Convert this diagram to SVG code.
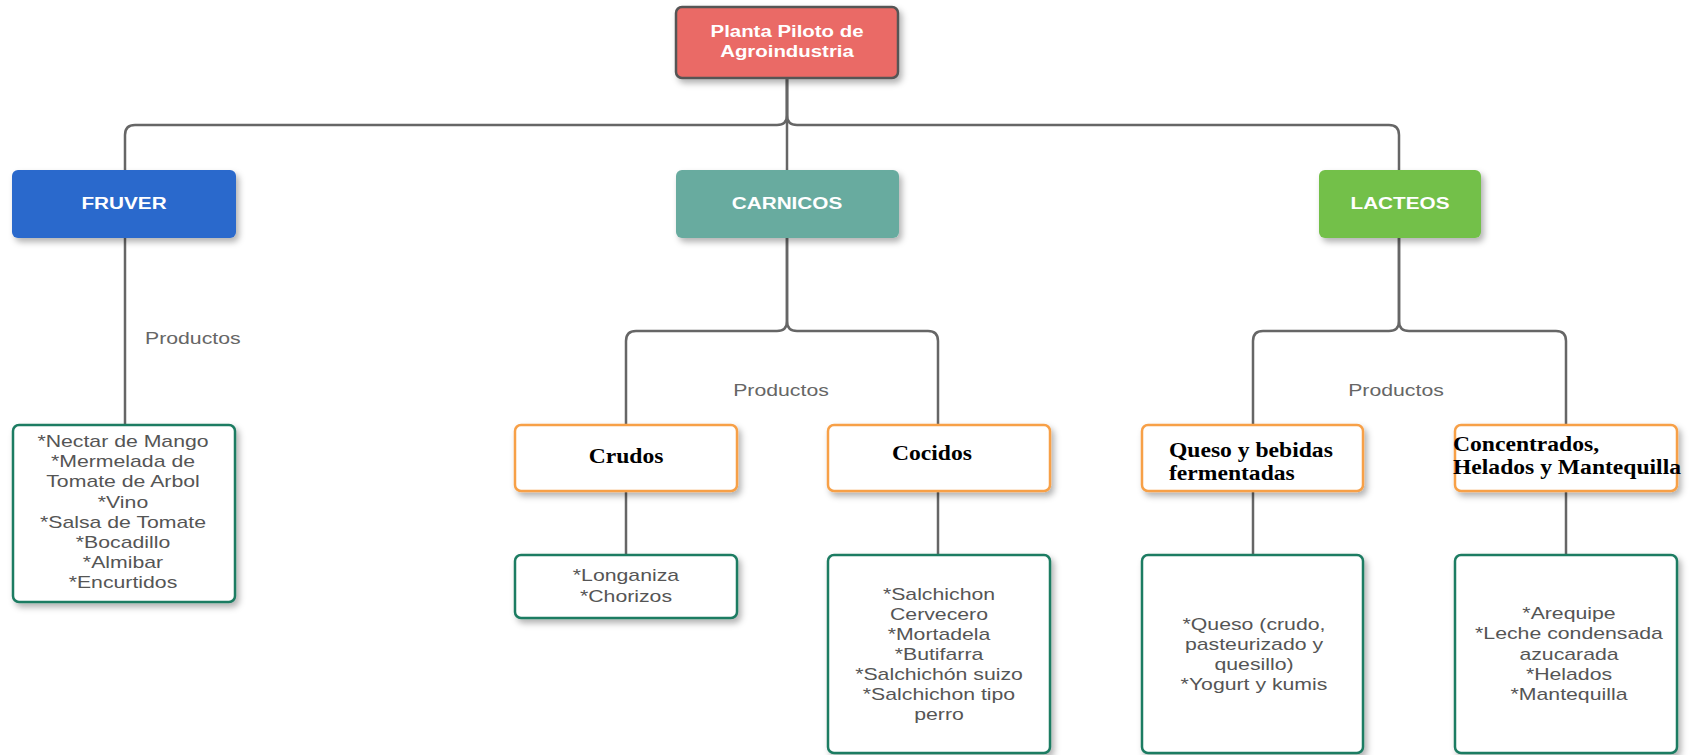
<svg xmlns="http://www.w3.org/2000/svg" width="1695" height="755" viewBox="0 0 1695 755">
<defs>
<filter id="sh" x="-10%" y="-10%" width="130%" height="140%">
<feDropShadow dx="3" dy="4" stdDeviation="3" flood-color="#000" flood-opacity="0.3"/>
</filter>
</defs>
<style>
.cat{filter:url(#sh)}
.root{fill:#EA6B66;stroke:#555;stroke-width:2.5}
.orange{fill:#fff;stroke:#F7A047;stroke-width:2.5}
.green{fill:#fff;stroke:#1E7B62;stroke-width:2.5}
.hw{font-family:"Liberation Sans",Arial,sans-serif;font-weight:bold;font-size:17px;fill:#fff;text-anchor:middle}
.tb{font-family:"Liberation Serif","Times New Roman",serif;font-weight:bold;font-size:20px;fill:#000}
.pr{font-family:"Liberation Sans",Arial,sans-serif;font-size:17px;fill:#555;text-anchor:middle}
.lbl{font-family:"Liberation Sans",Arial,sans-serif;font-size:17px;fill:#666}
.edge{fill:none;stroke:#666;stroke-width:2.5}
</style>
<rect width="1695" height="755" fill="#fff"/>

<g id="connectors">
<path class="edge" d="M787,78 V115 Q787,125 777,125 H135 Q125,125 125,135 V170"/>
<path class="edge" d="M787,78 V115 Q787,125 797,125 H1389 Q1399,125 1399,135 V170"/>
<path class="edge" d="M787,78 V170"/>
<path class="edge" d="M125,238 V425"/>
<path class="edge" d="M787,238 V321 Q787,331 777,331 H636 Q626,331 626,341 V425"/>
<path class="edge" d="M787,238 V321 Q787,331 797,331 H928 Q938,331 938,341 V425"/>
<path class="edge" d="M1399,238 V321 Q1399,331 1389,331 H1263 Q1253,331 1253,341 V425"/>
<path class="edge" d="M1399,238 V321 Q1399,331 1409,331 H1556 Q1566,331 1566,341 V425"/>
<path class="edge" d="M626,491 V555"/>
<path class="edge" d="M938,491 V555"/>
<path class="edge" d="M1253,491 V555"/>
<path class="edge" d="M1566,491 V555"/>
</g>

<g id="lbl-fruver"><g transform="translate(145,0) scale(1.25,1)"><text class="lbl" x="0" y="344">Productos</text></g></g>
<g id="lbl-carnicos"><g transform="translate(781,0) scale(1.25,1)"><text class="lbl" x="0" y="396" text-anchor="middle">Productos</text></g></g>
<g id="lbl-lacteos"><g transform="translate(1396,0) scale(1.25,1)"><text class="lbl" x="0" y="396" text-anchor="middle">Productos</text></g></g>

<g id="root">
<rect class="root cat" x="676" y="7" width="222" height="71" rx="6"/>
<g transform="translate(787,0) scale(1.2,1)">
<text class="hw" x="0" y="37">Planta Piloto de</text>
<text class="hw" x="0" y="57">Agroindustria</text>
</g>
</g>

<g id="fruver">
<rect class="cat" x="12" y="170" width="224" height="68" rx="6" fill="#2A69CC"/>
<g transform="translate(124,0) scale(1.22,1)"><text class="hw" x="0" y="209">FRUVER</text></g>
</g>
<g id="carnicos">
<rect class="cat" x="676" y="170" width="223" height="68" rx="6" fill="#67AB9F"/>
<g transform="translate(787,0) scale(1.22,1)"><text class="hw" x="0" y="209">CARNICOS</text></g>
</g>
<g id="lacteos">
<rect class="cat" x="1319" y="170" width="162" height="68" rx="6" fill="#73C04A"/>
<g transform="translate(1400,0) scale(1.22,1)"><text class="hw" x="0" y="209">LACTEOS</text></g>
</g>

<g id="fruver-products">
<rect class="green cat" x="13" y="425" width="222" height="177" rx="6"/>
<g transform="translate(123,0) scale(1.25,1)">
<text class="pr" x="0" y="447">*Nectar de Mango</text>
<text class="pr" x="0" y="467">*Mermelada de</text>
<text class="pr" x="0" y="487">Tomate de Arbol</text>
<text class="pr" x="0" y="508">*Vino</text>
<text class="pr" x="0" y="528">*Salsa de Tomate</text>
<text class="pr" x="0" y="548">*Bocadillo</text>
<text class="pr" x="0" y="568">*Almibar</text>
<text class="pr" x="0" y="588">*Encurtidos</text>
</g>
</g>

<g id="crudos">
<rect class="orange cat" x="515" y="425" width="222" height="66" rx="6"/>
<g transform="translate(626,0) scale(1.18,1)"><text class="tb" x="0" y="463" text-anchor="middle">Crudos</text></g>
</g>
<g id="cocidos">
<rect class="orange cat" x="828" y="425" width="222" height="66" rx="6"/>
<g transform="translate(932,0) scale(1.18,1)"><text class="tb" x="0" y="460" text-anchor="middle">Cocidos</text></g>
</g>
<g id="queso">
<rect class="orange cat" x="1142" y="425" width="221" height="66" rx="6"/>
<g transform="translate(1169,0) scale(1.18,1)">
<text class="tb" x="0" y="457">Queso y bebidas</text>
<text class="tb" x="0" y="480">fermentadas</text>
</g>
</g>
<g id="concentrados">
<rect class="orange cat" x="1455" y="425" width="222" height="66" rx="6"/>
<g transform="translate(1453,0) scale(1.18,1)">
<text class="tb" x="0" y="451">Concentrados,</text>
<text class="tb" x="0" y="474">Helados y Mantequilla</text>
</g>
</g>

<g id="crudos-products">
<rect class="green cat" x="515" y="555" width="222" height="63" rx="6"/>
<g transform="translate(626,0) scale(1.25,1)">
<text class="pr" x="0" y="581">*Longaniza</text>
<text class="pr" x="0" y="602">*Chorizos</text>
</g>
</g>
<g id="cocidos-products">
<rect class="green cat" x="828" y="555" width="222" height="198" rx="6"/>
<g transform="translate(939,0) scale(1.25,1)">
<text class="pr" x="0" y="600">*Salchichon</text>
<text class="pr" x="0" y="620">Cervecero</text>
<text class="pr" x="0" y="640">*Mortadela</text>
<text class="pr" x="0" y="660">*Butifarra</text>
<text class="pr" x="0" y="680">*Salchichón suizo</text>
<text class="pr" x="0" y="700">*Salchichon tipo</text>
<text class="pr" x="0" y="720">perro</text>
</g>
</g>
<g id="queso-products">
<rect class="green cat" x="1142" y="555" width="221" height="198" rx="6"/>
<g transform="translate(1254,0) scale(1.25,1)">
<text class="pr" x="0" y="630">*Queso (crudo,</text>
<text class="pr" x="0" y="650">pasteurizado y</text>
<text class="pr" x="0" y="670">quesillo)</text>
<text class="pr" x="0" y="690">*Yogurt y kumis</text>
</g>
</g>
<g id="concentrados-products">
<rect class="green cat" x="1455" y="555" width="222" height="198" rx="6"/>
<g transform="translate(1569,0) scale(1.25,1)">
<text class="pr" x="0" y="619">*Arequipe</text>
<text class="pr" x="0" y="639">*Leche condensada</text>
<text class="pr" x="0" y="660">azucarada</text>
<text class="pr" x="0" y="680">*Helados</text>
<text class="pr" x="0" y="700">*Mantequilla</text>
</g>
</g>
</svg>
